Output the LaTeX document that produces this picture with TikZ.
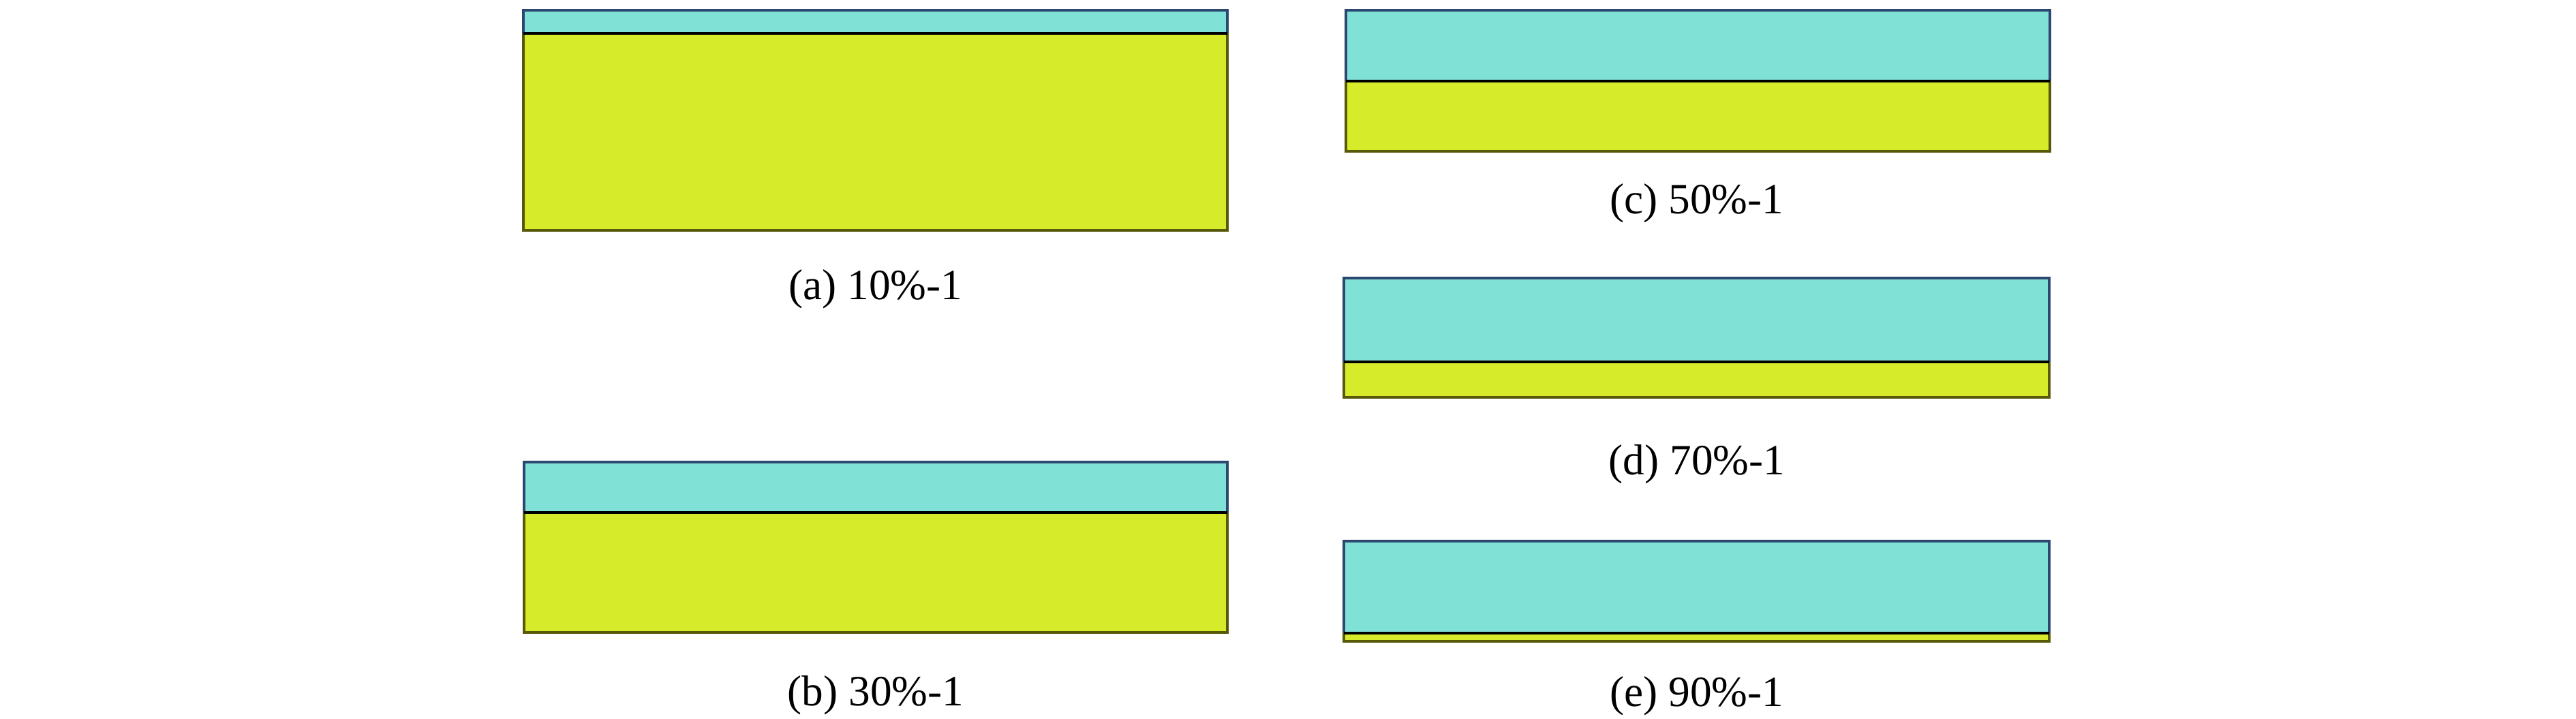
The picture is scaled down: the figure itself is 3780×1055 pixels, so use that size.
\documentclass[tikz,border=0pt]{standalone}
\usepackage{fontspec}
\setmainfont{Liberation Serif}
\usepackage{tikz}
\definecolor{Water}{RGB}{128,226,214}
\definecolor{Soil}{RGB}{214,236,42}
\definecolor{WaterEdge}{RGB}{44,72,112}
\definecolor{SoilEdge}{RGB}{88,88,10}
\newcommand{\drawthin}{\draw[line width=1pt]}
% #1 left, #2 right, #3 top, #4 interface, #5 bottom (pixel units)
\newcommand{\drawsample}[5]{
    \fill[Soil] (#1,#4) rectangle (#2,#5);
    \fill[Water] (#1,#3) rectangle (#2,#4);
    \drawthin[WaterEdge] (#1,#4)--(#1,#3)--(#2,#3)--(#2,#4);
    \drawthin[SoilEdge] (#1,#4)--(#1,#5)--(#2,#5)--(#2,#4);
    \drawthin[black] (#1,#4)--(#2,#4);
}
\tikzset{samplelabel/.style={anchor=base,inner sep=0pt,font=\fontsize{18}{20}\selectfont}}

\begin{document}
\begin{tikzpicture}[x=0.01cm,y=-0.01cm]
\useasboundingbox (0,0) rectangle (3780,1055);
\drawsample{768}{1801}{15}{49}{338}
    \drawsample{769}{1801}{678}{752}{928}
    \drawsample{1975}{3008}{15}{119}{222}
    \drawsample{1972}{3007}{408}{531}{583}
    \drawsample{1972}{3007}{794}{929}{941}
\node[samplelabel] (capa) at (1285,440) {(a) 10\%-1};
\node[samplelabel] (capb) at (1285,1035) {(b) 30\%-1};
\node[samplelabel] (capc) at (2490,314) {(c) 50\%-1};
\node[samplelabel] (capd) at (2490,697) {(d) 70\%-1};
\node[samplelabel] (cape) at (2490,1036) {(e) 90\%-1};
\end{tikzpicture}
\end{document}
